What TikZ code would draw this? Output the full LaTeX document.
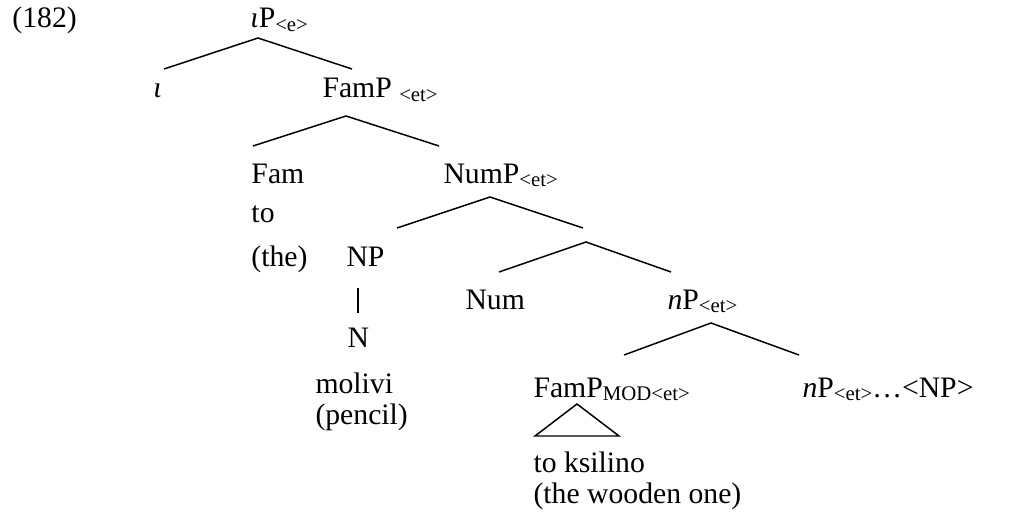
\documentclass[tikz,border=0pt]{standalone}
\usepackage{fontspec}
\setmainfont{Liberation Serif}
\usetikzlibrary{positioning, calc}
\newcommand{\tsub}[1]{\raisebox{-1.6pt}{\fontsize{8.4}{9}\selectfont #1}}

\begin{document}
\begin{tikzpicture}[x=0.404pt, y=-0.404pt, font=\fontsize{12}{14}\selectfont, lab/.style={anchor=base west, inner sep=0pt}, branch/.style={line width=0.6pt}]
\useasboundingbox (0,0) rectangle (1010,517);
\node[lab] (ex) at (12,28) {(182)};
\node[lab] (iP) at (250,28) {\textit{ι}P\tsub{<e>}};
\node[lab] (iota) at (153,98) {\textit{ι}};
\node[lab] (famP) at (322,98) {FamP \tsub{<et>}};
\node[lab] (fam) at (251,183) {Fam};
\node[lab] (famto) at (251,222) {to};
\node[lab] (famthe) at (251,266) {(the)};
\node[lab] (numP) at (443,183) {NumP\tsub{<et>}};
\node[lab] (NP) at (346,266) {NP};
\node[lab] (N) at (347,347) {N};
\node[lab] (molivi) at (315,393) {molivi};
\node[lab] (pencil) at (315,424) {(pencil)};
\node[lab] (num) at (465,309) {Num};
\node[lab] (nP) at (667,309) {\textit{n}P\tsub{<et>}};
\node[lab] (famPmod) at (533,397) {FamP\tsub{MOD<et>}};
\node[lab] (nPlow) at (802,397) {\textit{n}P\tsub{<et>}\dots<NP>};
\node[lab] (ksilino) at (533,472) {to ksilino};
\node[lab] (wooden) at (533,503) {(the wooden one)};
% branch points
\coordinate (iP-top) at (258,38);
\coordinate (iP-l) at (164,69);
\coordinate (iP-r) at (352,69);
\coordinate (famP-top) at (346,116);
\coordinate (famP-l) at (253,146);
\coordinate (famP-r) at (439,146);
\coordinate (numP-top) at (490,197);
\coordinate (numP-l) at (397,228);
\coordinate (numP-r) at (583,228);
\coordinate (bar-top) at (586,242);
\coordinate (bar-l) at (499,272);
\coordinate (bar-r) at (671,272);
\coordinate (nP-top) at (711,323);
\coordinate (nP-l) at (624,355);
\coordinate (nP-r) at (799,355);
\coordinate (tri-top) at (577,404);
\coordinate (tri-l) at (535,436);
\coordinate (tri-r) at (619,436);
\draw[branch] (iP-l) -- (iP-top) -- (iP-r);
\draw[branch] (famP-l) -- (famP-top) -- (famP-r);
\draw[branch] (numP-l) -- (numP-top) -- (numP-r);
\draw[branch] (bar-l) -- (bar-top) -- (bar-r);
\draw[branch] (nP-l) -- (nP-top) -- (nP-r);
\draw[branch] (NP.south -| N.north) ++(0,22) -- ++(0,25);
\draw[branch] (tri-top) -- (tri-l) -- (tri-r) -- cycle;
\end{tikzpicture}
\end{document}
